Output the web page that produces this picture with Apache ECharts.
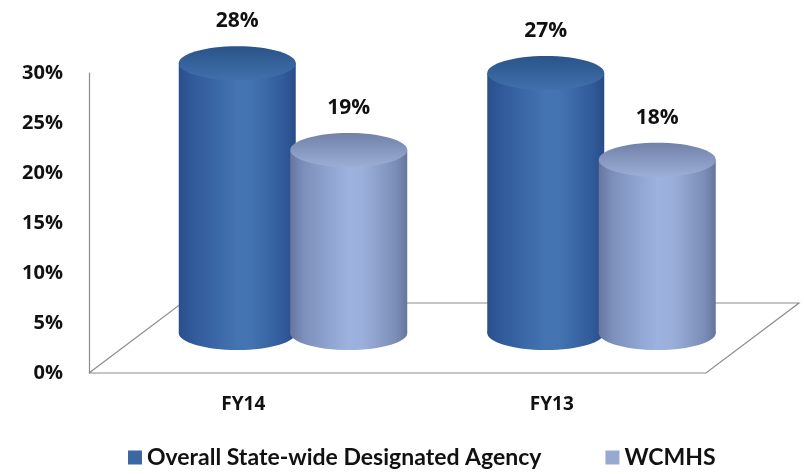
<!DOCTYPE html>
<html>
<head>
<meta charset="utf-8">
<script src="https://cdn.jsdelivr.net/npm/echarts@6/dist/echarts.min.js"></script>
<style>
html,body{margin:0;padding:0;background:#fff;}
#chart{width:804px;height:474px;}
</style>
</head>
<body>
<div id="chart"></div>
<script>
// ---- data ----
const categories = ['FY14', 'FY13'];
const seriesNames = ['Overall State-wide Designated Agency', 'WCMHS'];
const stateWideValues = [28, 27];
const wcmhsValues = [19, 18];
const yMin = 0, yMax = 30, yInterval = 5;

// ---- styling ----
const FONT = '"Open Sans", "Liberation Sans", sans-serif';
const LFONT = 'Lato, "Open Sans", sans-serif';
const depthX = 93, depthY = -70;      // floor depth in pixels
const cylShiftY = -40;                // cylinder base offset (mid depth)
const heightScale = 0.963;            // perspective shrink at mid depth
const rx = 58.5, ry = 17;

function lg(stops, vertical) {
  return {type: 'linear', x: 0, y: 0, x2: vertical ? 0 : 1, y2: vertical ? 1 : 0,
    colorStops: stops.map(s => ({offset: s[0], color: s[1]}))};
}

const styles = [
  { // dark
    offsetX: -6,
    legend: '#3B68A3',
    body: [[0, '#29508A'], [0.12, '#315A9B'], [0.5, '#4474B1'], [0.62, '#4373B0'], [0.9, '#315A9A'], [1, '#284D85']],
    top: [[0, '#2A5489'], [1, '#4170AC']]
  },
  { // light
    offsetX: 105.5,
    legend: '#98A9CF',
    body: [[0, '#66769F'], [0.12, '#7D90BC'], [0.5, '#9DB3DF'], [0.62, '#9AB0DB'], [0.9, '#7C8EB8'], [1, '#65749C']],
    top: [[0, '#7181AA'], [1, '#9CAED5']]
  }
];

function cylinderRenderer(st) {
  return function (params, api) {
    const cat = api.value(0), val = api.value(1);
    const base = api.coord([cat, 0]);
    const topP = api.coord([cat, val]);
    const cx = base[0] + st.offsetX;
    const by = base[1] + cylShiftY;
    const h = (base[1] - topP[1]) * heightScale;
    const ty = by - h;
    const bodyFill = lg(st.body, false);
    return {
      type: 'group',
      children: [
        {type: 'ellipse', shape: {cx: cx, cy: by, rx: rx, ry: ry}, style: {fill: bodyFill}},
        {type: 'rect', shape: {x: cx - rx, y: ty, width: rx * 2, height: h}, style: {fill: bodyFill}},
        {type: 'ellipse', shape: {cx: cx, cy: ty, rx: rx, ry: ry}, style: {fill: lg(st.top, true)}},
        {type: 'text', z2: 10, style: {text: val + '%', x: cx, y: ty - ry - 25,
          align: 'center', verticalAlign: 'middle', fill: '#111',
          font: 'bold 21px ' + FONT}}
      ]
    };
  };
}

function floorRenderer(params, api) {
  const cs = params.coordSys;
  const x0 = cs.x, x1 = cs.x + cs.width, yb = cs.y + cs.height;
  const ls = {stroke: '#8c8c8c', lineWidth: 1.2, fill: null};
  return {
    type: 'group',
    children: [
      {type: 'polyline', shape: {points: [[x0, yb], [x1, yb], [x1 + depthX, yb + depthY], [x0 + depthX, yb + depthY], [x0, yb]]}, style: ls}
    ]
  };
}

const chart = echarts.init(document.getElementById('chart'), null, {renderer: 'canvas'});
chart.setOption({
  backgroundColor: '#ffffff',
  animation: false,
  grid: {left: 89, right: 98, top: 73, bottom: 101},
  xAxis: {
    type: 'category', data: categories,
    axisLine: {show: false}, axisTick: {show: false}, splitLine: {show: false},
    axisLabel: {margin: 22, color: '#111', fontFamily: FONT, fontWeight: 'bold', fontSize: 19}
  },
  yAxis: {
    type: 'value', min: yMin, max: yMax, interval: yInterval,
    axisLine: {show: true, lineStyle: {color: '#8c8c8c', width: 1.2}},
    axisTick: {show: false}, splitLine: {show: false},
    axisLabel: {margin: 26, color: '#111', fontFamily: FONT, fontWeight: 'bold', fontSize: 20,
      formatter: v => v + '%'}
  },
  legend: {
    data: seriesNames, bottom: 0, left: 123, icon: 'rect', itemWidth: 14, itemHeight: 14,
    itemGap: 64,
    textStyle: {color: '#111', fontFamily: LFONT, fontWeight: 'bold', fontSize: 23}
  },
  series: [
    {type: 'custom', name: '_floor', renderItem: floorRenderer, data: [[0, 0]], z: 1, silent: true},
    {type: 'custom', name: seriesNames[0], renderItem: cylinderRenderer(styles[0]),
      itemStyle: {color: styles[0].legend}, encode: {x: 0, y: 1}, z: 2,
      data: categories.map((c, i) => [i, stateWideValues[i]])},
    {type: 'custom', name: seriesNames[1], renderItem: cylinderRenderer(styles[1]),
      itemStyle: {color: styles[1].legend}, encode: {x: 0, y: 1}, z: 3,
      data: categories.map((c, i) => [i, wcmhsValues[i]])}
  ]
});
</script>
</body>
</html>
